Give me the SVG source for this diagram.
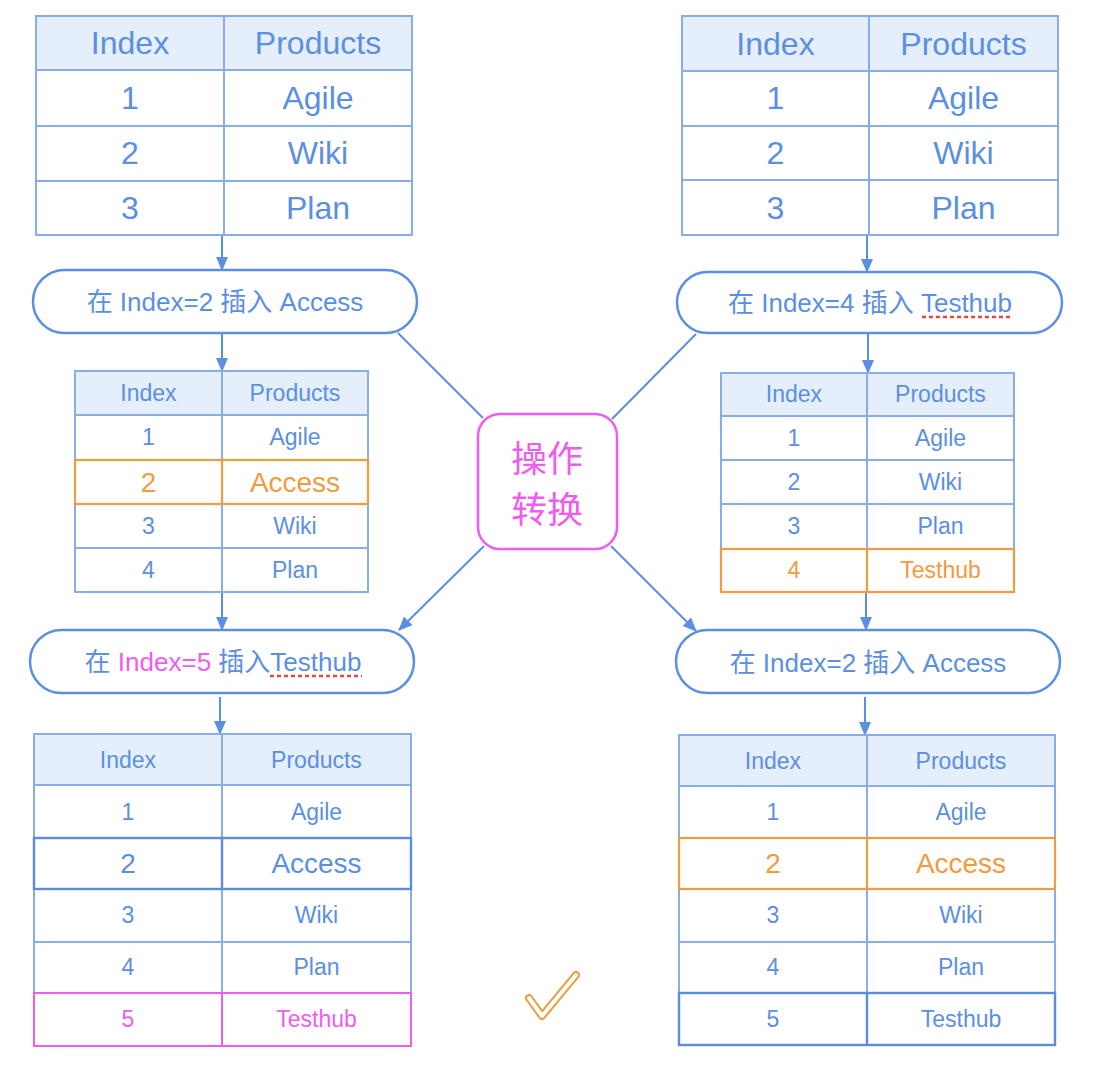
<svg xmlns="http://www.w3.org/2000/svg" width="1095" height="1080" viewBox="0 0 1095 1080">
<style>
.bg{fill:#ffffff}
.hdr{fill:#e5eefb;stroke:#88aeea;stroke-width:2}
.cell{fill:#ffffff;stroke:#88aeea;stroke-width:2}
.div{stroke:#88aeea;stroke-width:2}
.hlo{fill:none;stroke:#f29a3e;stroke-width:2.2}
.hlm{fill:none;stroke:#ee5cf0;stroke-width:2}
.hlb{fill:none;stroke:#5a8ce0;stroke-width:2.4}
.t{font-family:"Liberation Sans","Noto Sans CJK SC",sans-serif;fill:#5b8fe2;text-anchor:middle}
.o{fill:#f29a3e}
.m{fill:#ee5cf0}
.oval{fill:#ffffff;stroke:#5b8fe2;stroke-width:2.5}
.conn{stroke:#5b8fe2;stroke-width:2;fill:none}
.ul{stroke:#e8473d;stroke-width:2.5;stroke-dasharray:4 3;fill:none}
.f32{font-size:32px}
.f23{font-size:23px}
.f28{font-size:28px}
.f26{font-size:26px}
</style>
<defs>
<marker id="ah" markerUnits="userSpaceOnUse" markerWidth="14" markerHeight="14" viewBox="0 0 14 14" refX="13" refY="7" orient="auto">
<path d="M0,1 L14,7 L0,13 Z" fill="#5b8fe2"/>
</marker>
</defs>
<rect class="bg" x="0" y="0" width="1095" height="1080"/>

<g id="connectors">
<line class="conn" x1="222" y1="235" x2="222" y2="270" marker-end="url(#ah)"/>
<line class="conn" x1="222" y1="333" x2="222" y2="371" marker-end="url(#ah)"/>
<line class="conn" x1="222" y1="592" x2="222" y2="630" marker-end="url(#ah)"/>
<line class="conn" x1="220" y1="697" x2="220" y2="734" marker-end="url(#ah)"/>
<line class="conn" x1="867" y1="235" x2="867" y2="272" marker-end="url(#ah)"/>
<line class="conn" x1="868" y1="333" x2="868" y2="373" marker-end="url(#ah)"/>
<line class="conn" x1="866" y1="592" x2="866" y2="630" marker-end="url(#ah)"/>
<line class="conn" x1="865" y1="697" x2="865" y2="735" marker-end="url(#ah)"/>
<line class="conn" x1="398" y1="333" x2="483" y2="418"/>
<line class="conn" x1="696" y1="334" x2="612" y2="419"/>
<line class="conn" x1="484" y1="546" x2="399" y2="630" marker-end="url(#ah)"/>
<line class="conn" x1="611" y1="546" x2="696" y2="631" marker-end="url(#ah)"/>
</g>

<g id="table-top-left">
<rect class="hdr" x="36" y="16" width="376" height="54"/>
<rect class="cell" x="36" y="70" width="376" height="56"/>
<rect class="cell" x="36" y="126" width="376" height="55"/>
<rect class="cell" x="36" y="181" width="376" height="54"/>
<line class="div" x1="224" y1="16" x2="224" y2="235"/>
<text class="t f32" x="130" y="54">Index</text><text class="t f32" x="318" y="54">Products</text>
<text class="t f32" x="130" y="109">1</text><text class="t f32" x="318" y="109">Agile</text>
<text class="t f32" x="130" y="164">2</text><text class="t f32" x="318" y="164">Wiki</text>
<text class="t f32" x="130" y="219">3</text><text class="t f32" x="318" y="219">Plan</text>
</g>

<g id="table-top-right">
<rect class="hdr" x="682" y="16" width="376" height="55"/>
<rect class="cell" x="682" y="71" width="376" height="55"/>
<rect class="cell" x="682" y="126" width="376" height="54"/>
<rect class="cell" x="682" y="180" width="376" height="55"/>
<line class="div" x1="869" y1="16" x2="869" y2="235"/>
<text class="t f32" x="775.5" y="55">Index</text><text class="t f32" x="963.5" y="55">Products</text>
<text class="t f32" x="775.5" y="109">1</text><text class="t f32" x="963.5" y="109">Agile</text>
<text class="t f32" x="775.5" y="164">2</text><text class="t f32" x="963.5" y="164">Wiki</text>
<text class="t f32" x="775.5" y="219">3</text><text class="t f32" x="963.5" y="219">Plan</text>
</g>

<g id="op-left-1">
<rect class="oval" x="33" y="270" width="384" height="63" rx="31.5"/>
<text class="t f26" x="225" y="311">在 Index=2 插入 Access</text>
</g>

<g id="op-right-1">
<rect class="oval" x="677" y="272" width="385" height="61" rx="30.5"/>
<text class="t f26" x="870" y="312">在 Index=4 插入 Testhub</text>
<line class="ul" x1="922" y1="317" x2="1013" y2="317"/>
</g>

<g id="table-mid-left">
<rect class="hdr" x="75" y="371" width="293" height="44"/>
<rect class="cell" x="75" y="415" width="293" height="45"/>
<rect class="cell" x="75" y="460" width="293" height="44"/>
<rect class="cell" x="75" y="504" width="293" height="44"/>
<rect class="cell" x="75" y="548" width="293" height="44"/>
<line class="div" x1="222" y1="371" x2="222" y2="592"/>
<rect class="hlo" x="75" y="460" width="293" height="44"/>
<line class="hlo" x1="222" y1="460" x2="222" y2="504"/>
<text class="t f23" x="148.5" y="401">Index</text><text class="t f23" x="295" y="401">Products</text>
<text class="t f23" x="148.5" y="445">1</text><text class="t f23" x="295" y="445">Agile</text>
<text class="t f28 o" x="148.5" y="492">2</text><text class="t f28 o" x="295" y="492">Access</text>
<text class="t f23" x="148.5" y="534">3</text><text class="t f23" x="295" y="534">Wiki</text>
<text class="t f23" x="148.5" y="578">4</text><text class="t f23" x="295" y="578">Plan</text>
</g>

<g id="table-mid-right">
<rect class="hdr" x="721" y="373" width="293" height="43"/>
<rect class="cell" x="721" y="416" width="293" height="44"/>
<rect class="cell" x="721" y="460" width="293" height="44"/>
<rect class="cell" x="721" y="504" width="293" height="45"/>
<rect class="cell" x="721" y="549" width="293" height="43"/>
<line class="div" x1="867" y1="373" x2="867" y2="592"/>
<rect class="hlo" x="721" y="549" width="293" height="43"/>
<line class="hlo" x1="867" y1="549" x2="867" y2="592"/>
<text class="t f23" x="794" y="402">Index</text><text class="t f23" x="940.5" y="402">Products</text>
<text class="t f23" x="794" y="446">1</text><text class="t f23" x="940.5" y="446">Agile</text>
<text class="t f23" x="794" y="490">2</text><text class="t f23" x="940.5" y="490">Wiki</text>
<text class="t f23" x="794" y="534">3</text><text class="t f23" x="940.5" y="534">Plan</text>
<text class="t f23 o" x="794" y="578">4</text><text class="t f23 o" x="940.5" y="578">Testhub</text>
</g>

<g id="center-op">
<rect x="478" y="414" width="139" height="135" rx="22" fill="#ffffff" stroke="#ee5cf0" stroke-width="2.5"/>
<text class="t m" x="547" y="472" style="font-size:36px;font-family:'Noto Sans CJK SC',sans-serif">操作</text>
<text class="t m" x="547" y="523" style="font-size:36px;font-family:'Noto Sans CJK SC',sans-serif">转换</text>
</g>

<g id="op-left-2">
<rect class="oval" x="30" y="630" width="384" height="63" rx="31.5"/>
<text class="t f26" x="223" y="671">在 <tspan class="m">Index=5</tspan> 插入Testhub</text>
<line class="ul" x1="270" y1="676" x2="362" y2="676"/>
</g>

<g id="op-right-2">
<rect class="oval" x="676" y="630" width="384" height="63" rx="31.5"/>
<text class="t f26" x="868" y="672">在 Index=2 插入 Access</text>
</g>

<g id="table-bottom-left">
<rect class="hdr" x="34" y="734" width="377" height="51"/>
<rect class="cell" x="34" y="785" width="377" height="53"/>
<rect class="cell" x="34" y="838" width="377" height="51"/>
<rect class="cell" x="34" y="889" width="377" height="53"/>
<rect class="cell" x="34" y="942" width="377" height="51"/>
<rect class="cell" x="34" y="993" width="377" height="53"/>
<line class="div" x1="222" y1="734" x2="222" y2="1046"/>
<rect class="hlb" x="34" y="838" width="377" height="51"/>
<line class="hlb" x1="222" y1="838" x2="222" y2="889"/>
<rect class="hlm" x="34" y="993" width="377" height="53"/>
<line class="hlm" x1="222" y1="993" x2="222" y2="1046"/>
<text class="t f23" x="128" y="768">Index</text><text class="t f23" x="316.5" y="768">Products</text>
<text class="t f23" x="128" y="820">1</text><text class="t f23" x="316.5" y="820">Agile</text>
<text class="t f28" x="128" y="873">2</text><text class="t f28" x="316.5" y="873">Access</text>
<text class="t f23" x="128" y="923">3</text><text class="t f23" x="316.5" y="923">Wiki</text>
<text class="t f23" x="128" y="975">4</text><text class="t f23" x="316.5" y="975">Plan</text>
<text class="t f23 m" x="128" y="1027">5</text><text class="t f23 m" x="316.5" y="1027">Testhub</text>
</g>

<g id="table-bottom-right">
<rect class="hdr" x="679" y="735" width="376" height="51"/>
<rect class="cell" x="679" y="786" width="376" height="52"/>
<rect class="cell" x="679" y="838" width="376" height="51"/>
<rect class="cell" x="679" y="889" width="376" height="53"/>
<rect class="cell" x="679" y="942" width="376" height="51"/>
<rect class="cell" x="679" y="993" width="376" height="52"/>
<line class="div" x1="867" y1="735" x2="867" y2="1045"/>
<rect class="hlo" x="679" y="838" width="376" height="51"/>
<line class="hlo" x1="867" y1="838" x2="867" y2="889"/>
<rect class="hlb" x="679" y="993" width="376" height="52"/>
<line class="hlb" x1="867" y1="993" x2="867" y2="1045"/>
<text class="t f23" x="773" y="769">Index</text><text class="t f23" x="961" y="769">Products</text>
<text class="t f23" x="773" y="820">1</text><text class="t f23" x="961" y="820">Agile</text>
<text class="t f28 o" x="773" y="873">2</text><text class="t f28 o" x="961" y="873">Access</text>
<text class="t f23" x="773" y="923">3</text><text class="t f23" x="961" y="923">Wiki</text>
<text class="t f23" x="773" y="975">4</text><text class="t f23" x="961" y="975">Plan</text>
<text class="t f23" x="773" y="1027">5</text><text class="t f23" x="961" y="1027">Testhub</text>
</g>

<g id="checkmark">
<path d="M529,998 L542,1016 L576,975" fill="none" stroke="#f29a3e" stroke-width="8" stroke-linecap="round" stroke-linejoin="round"/>
<path d="M529,998 L542,1016 L576,975" fill="none" stroke="#ffffff" stroke-width="4" stroke-linecap="round" stroke-linejoin="round"/>
</g>
</svg>
